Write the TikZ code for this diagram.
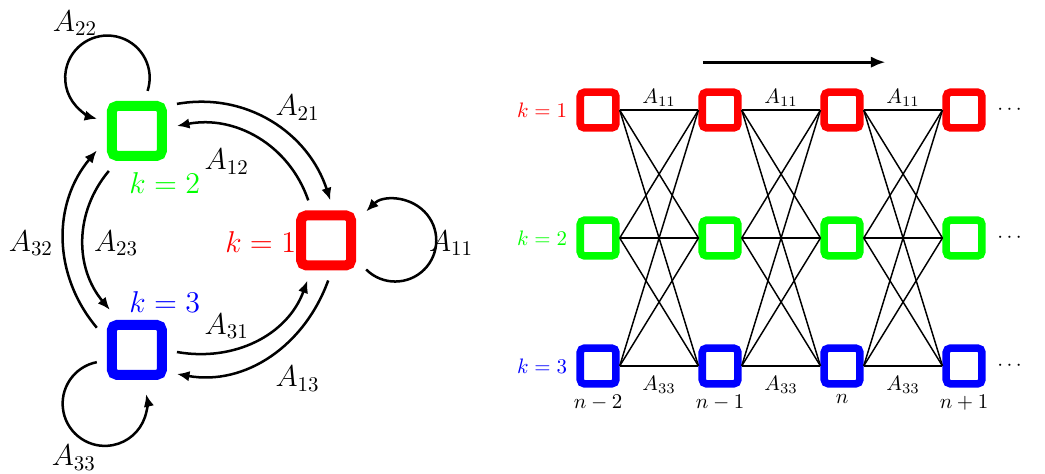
\documentclass[tikz,border=0pt]{standalone}
\usepackage{amsmath}
\usepackage{amssymb}
\usetikzlibrary{positioning,arrows.meta}

\begin{document}
\begin{tikzpicture}[
        state/.style = {draw, line width = 4.8pt, rounded corners = 2.5pt, minimum size = .84cm, outer sep = 7.2pt},
        cell/.style = {draw, line width = 3.6pt, rounded corners = 2pt, minimum size = .6cm},
        trans/.style = {line width = 1.2pt, -{Latex[length=6pt, width=5pt]}},
        mesh/.style = {line width = .7pt},
        lbl/.style = {font = \Large}
    ]
        \useasboundingbox (0,0) rectangle (17.56,7.95);
        % chain with three states
        \node[state, draw=green] (k2) at (2.30,5.75) {};
        \node[state, draw=red] (k1) at (5.48,3.91) {};
        \node[state, draw=blue] (k3) at (2.30,2.07) {};
        \draw[trans] (k2.34) to[out=10, in=108] (k1.84);
        \draw[trans] (k1.114) to[out=109, in=11] (k2.7);
        \draw[trans] (k3.-3) to[out=-10, in=-110] (k1.-115);
        \draw[trans] (k1.-87) to[out=-110, in=-10] (k3.-31);
        \draw[trans] (k3.151) to[out=130, in=230] (k2.206);
        \draw[trans] (k2.235) to[out=230, in=130] (k3.124);
        \draw[trans] (k1.-36) arc[start angle=225, end angle=495, radius=.69];
        \draw[trans] (k2.75) arc[start angle=-18, end angle=256, radius=.71];
        \draw[trans] (k3.197) arc[start angle=101, end angle=373, radius=.71];
        \node[lbl] (a22) at (1.26,7.56) {$A_{22}$};
        \node[lbl] (a21) at (5.00,6.14) {$A_{21}$};
        \node[lbl] (a12) at (3.81,5.23) {$A_{12}$};
        \node[lbl, text=green] (lk2) at (2.77,4.87) {$k=2$};
        \node[lbl, text=red] (lk1) at (4.38,3.89) {$k=1$};
        \node[lbl] (a11) at (7.58,3.86) {$A_{11}$};
        \node[lbl] (a32) at (0.52,3.86) {$A_{32}$};
        \node[lbl] (a23) at (1.95,3.86) {$A_{23}$};
        \node[lbl, text=blue] (lk3) at (2.77,2.87) {$k=3$};
        \node[lbl] (a31) at (3.81,2.47) {$A_{31}$};
        \node[lbl] (a13) at (5.00,1.59) {$A_{13}$};
        \node[lbl] (a33) at (1.24,0.26) {$A_{33}$};

        % unrolled in time
        \foreach \c/\x in {1/10.05, 2/12.10, 3/14.15, 4/16.20} {
            \node[cell, draw=red] (s\c1) at (\x,6.10) {};
            \node[cell, draw=green] (s\c2) at (\x,3.95) {};
            \node[cell, draw=blue] (s\c3) at (\x,1.80) {};
        }
        \foreach \c/\d in {1/2, 2/3, 3/4}
            \foreach \i in {1,2,3}
                \foreach \j in {1,2,3}
                    \draw[mesh] (s\c\i.east) -- (s\d\j.west);
        \node[text=red, left=1pt of s11] (r1) {$k=1$};
        \node[text=green, left=1pt of s12] (r2) {$k=2$};
        \node[text=blue, left=1pt of s13] (r3) {$k=3$};
        \node[right=2pt of s41] (d1) {$\cdots$};
        \node[right=2pt of s42] (d2) {$\cdots$};
        \node[right=2pt of s43] (d3) {$\cdots$};
        \node[below=0pt of s13] (t1) {$n-2$};
        \node[below=0pt of s23] (t2) {$n-1$};
        \node[below=0pt of s33] (t3) {$n$};
        \node[below=0pt of s43] (t4) {$n+1$};
        \node (b1) at (11.075,6.31) {$A_{11}$};
        \node (b2) at (13.125,6.31) {$A_{11}$};
        \node (b3) at (15.175,6.31) {$A_{11}$};
        \node (c1) at (11.075,1.48) {$A_{33}$};
        \node (c2) at (13.125,1.48) {$A_{33}$};
        \node (c3) at (15.175,1.48) {$A_{33}$};
        \coordinate (ta) at (11.81,6.905);
        \coordinate (tb) at (14.88,6.905);
        \draw[line width=1.5pt, -{Latex[length=7pt, width=5.5pt]}] (ta) -- (tb);
    \end{tikzpicture}
\end{document}
